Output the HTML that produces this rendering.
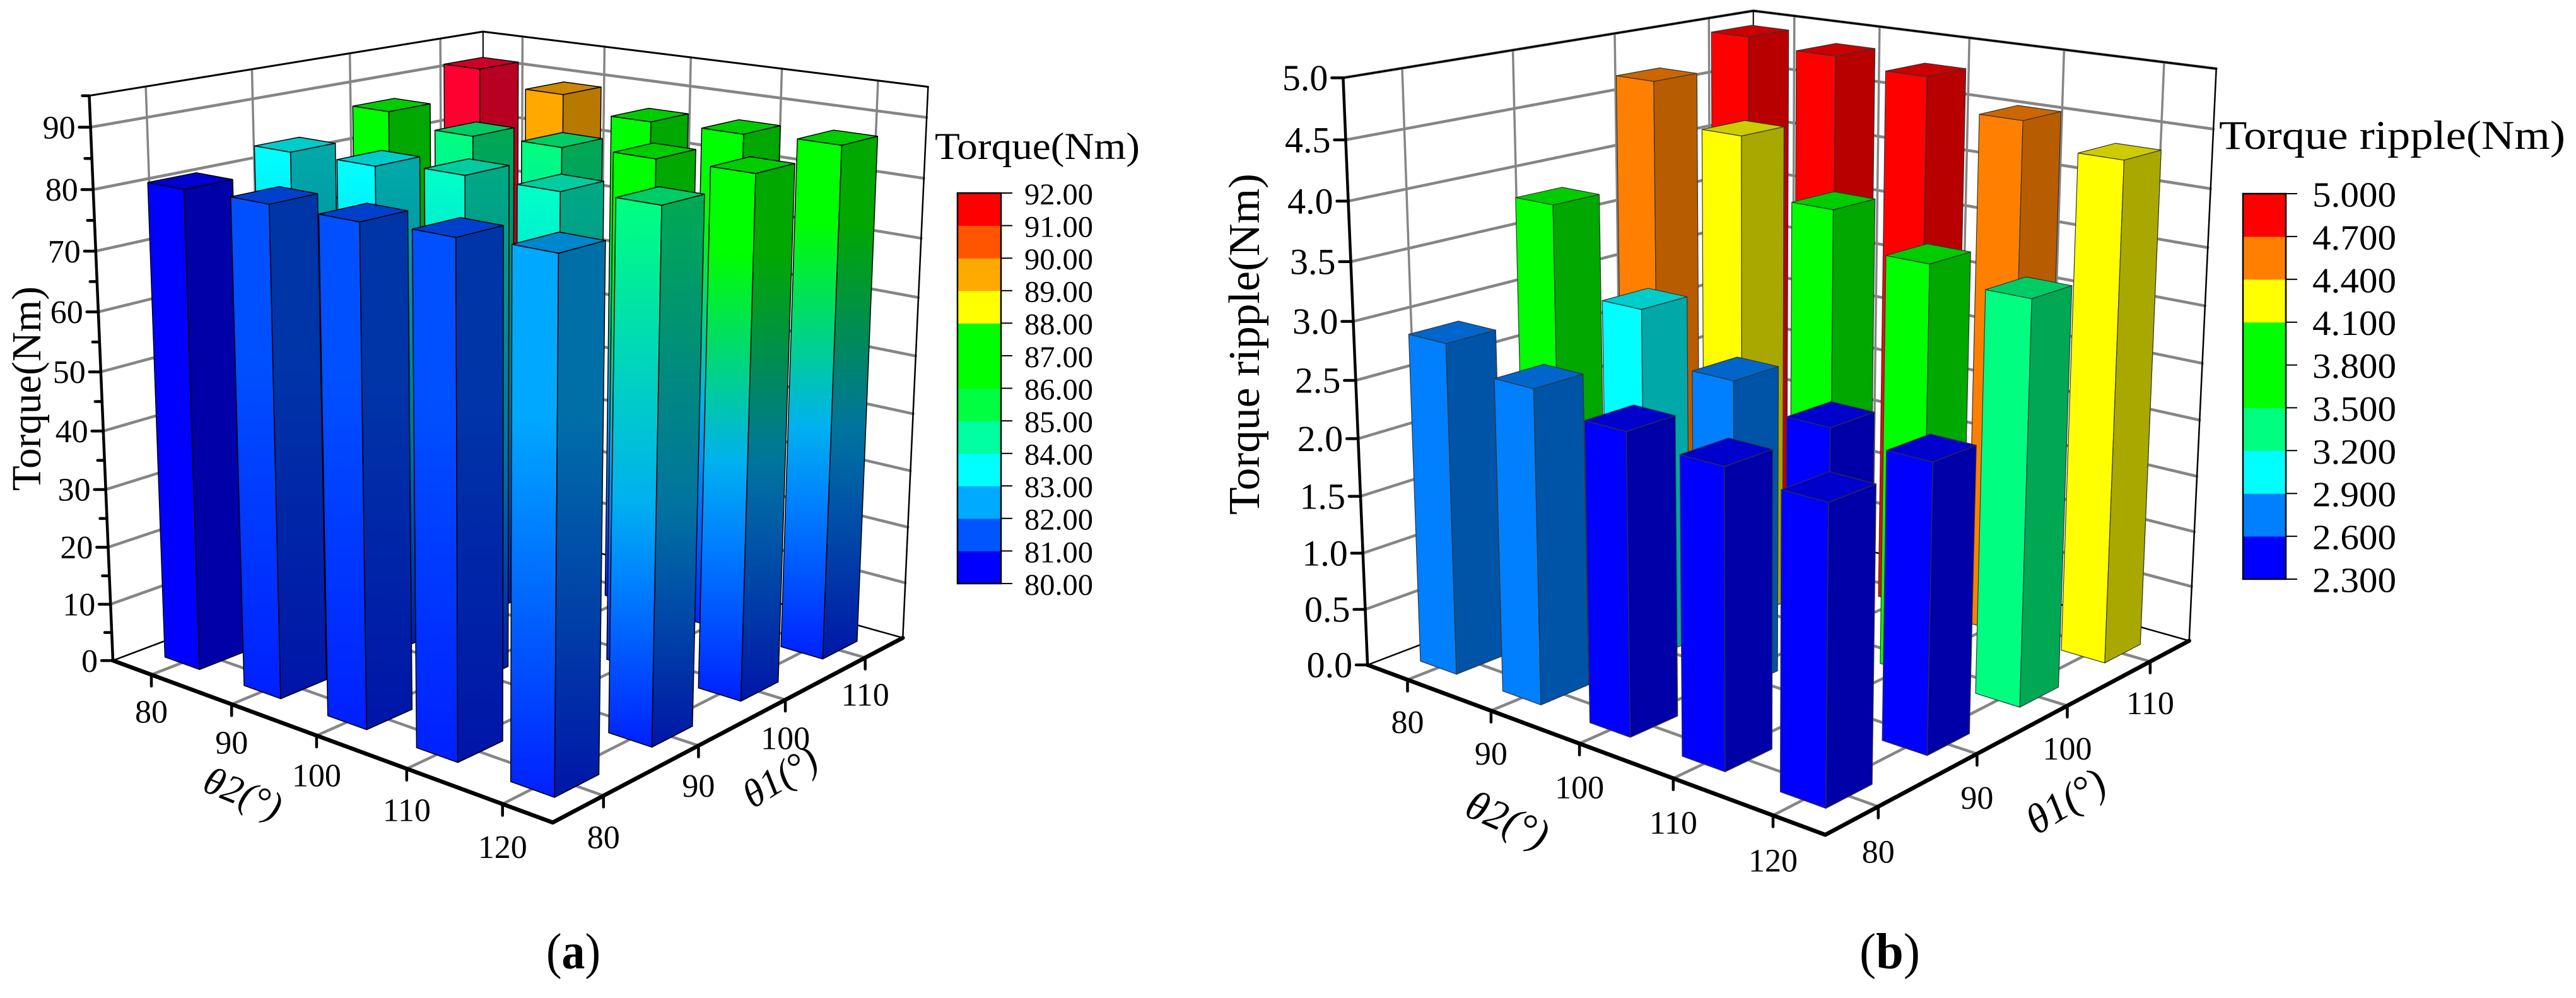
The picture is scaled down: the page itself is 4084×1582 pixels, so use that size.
<!DOCTYPE html>
<html lang="en">
<head>
<meta charset="utf-8">
<title>Torque and torque ripple 3D bar charts</title>
<style>
html,body{margin:0;padding:0;background:#fff;}
svg{display:block;}
text{font-family:"Liberation Serif",serif;fill:#000;}
</style>
</head>
<body>
<svg id="figure" xmlns="http://www.w3.org/2000/svg" width="4084" height="1582" viewBox="0 0 4084 1582">
  <rect x="0" y="0" width="4084" height="1582" fill="#fff"/>
  <defs id="gradients"></defs>
  <g id="panel-a"></g>
  <g id="panel-b"></g>

  <text transform="translate(64,778) rotate(-90)" font-size="66" textLength="324" lengthAdjust="spacingAndGlyphs">Torque(Nm)</text>
  <text transform="translate(385,1258) rotate(22)" font-size="62" font-style="italic" text-anchor="middle" y="20">θ2(°)</text>
  <text transform="translate(1237,1232) rotate(-32)" font-size="62" font-style="italic" text-anchor="middle" y="20">θ1(°)</text>
  <text x="1482" y="252" font-size="60" textLength="325" lengthAdjust="spacingAndGlyphs">Torque(Nm)</text>
  <text x="866" y="1535" font-size="80" textLength="86" lengthAdjust="spacingAndGlyphs">(<tspan font-weight="bold">a</tspan>)</text>

  <text transform="translate(1996,816) rotate(-90)" font-size="70" textLength="541" lengthAdjust="spacingAndGlyphs">Torque ripple(Nm)</text>
  <text transform="translate(2390,1299) rotate(24)" font-size="66" font-style="italic" text-anchor="middle" y="22">θ2(°)</text>
  <text transform="translate(3275,1270) rotate(-32)" font-size="66" font-style="italic" text-anchor="middle" y="22">θ1(°)</text>
  <text x="3518" y="236" font-size="65" textLength="549" lengthAdjust="spacingAndGlyphs">Torque ripple(Nm)</text>
  <text x="2948" y="1535" font-size="80" textLength="96" lengthAdjust="spacingAndGlyphs">(<tspan font-weight="bold">b</tspan>)</text>
</svg>

<script>
// ---- shared category axes ----
const theta2Labels = ['80', '90', '100', '110', '120'];
const theta1Labels = ['80', '90', '100', '110'];

// ---- panel (a) data: torque (Nm), one array per theta1 value, ordered by theta2 ----
const torqueTheta1At80 = [80.85, 81.1, 81.05, 81.5, 82.05];
const torqueTheta1At90 = [83.4, 83.5, 84.5, 84.5, 85.05];
const torqueTheta1At100 = [87.0, 85.05, 85.5, 86.05, 86.2];
const torqueTheta1At110 = [91.5, 89.05, 86.5, 86.7, 87.2];
const torqueZTicks = ['0', '10', '20', '30', '40', '50', '60', '70', '80', '90'];
const torqueLegendTicks = ['80.00', '81.00', '82.00', '83.00', '84.00', '85.00', '86.00', '87.00', '88.00', '89.00', '90.00', '91.00', '92.00'];

// ---- panel (b) data: torque ripple (Nm), one array per theta1 value, ordered by theta2 ----
const rippleTheta1At80 = [2.87, 2.68, 2.53, 2.46, 2.4];
const rippleTheta1At90 = [3.81, 3.08, 2.66, 2.47, 2.4];
const rippleTheta1At100 = [4.69, 4.34, 3.85, 3.55, 3.43];
const rippleTheta1At110 = [4.93, 4.865, 4.795, 4.54, 4.34];
const rippleZTicks = ['0.0', '0.5', '1.0', '1.5', '2.0', '2.5', '3.0', '3.5', '4.0', '4.5', '5.0'];
const rippleLegendTicks = ['2.300', '2.600', '2.900', '3.200', '3.500', '3.800', '4.100', '4.400', '4.700', '5.000'];

// ---- colour scales ----
const torqueBinColors = ['#0000ff', '#0050ff', '#00a8ff', '#00ffff', '#00ffc8', '#00ff80', '#00ff00', '#00ff00', '#ffff00', '#ffa800', '#ff5500', '#ff0030'];
const torqueLegendColors = ['#0000ff', '#0055ff', '#00aaff', '#00ffff', '#00ffa0', '#00ff40', '#00ff00', '#00ff00', '#ffff00', '#ffaa00', '#ff5500', '#ff0000'];
const rippleLegendColors = ['#0000ff', '#0080ff', '#00ffff', '#00ff80', '#00ff00', '#00ff00', '#ffff00', '#ff8000', '#ff0000'];

const SVGNS = 'http://www.w3.org/2000/svg';

function hexToRgb(h) {
  return [parseInt(h.slice(1, 3), 16), parseInt(h.slice(3, 5), 16), parseInt(h.slice(5, 7), 16)];
}
function rgbStr(c) {
  return 'rgb(' + c.map(function (x) { return Math.round(x); }).join(',') + ')';
}
function shade(rgb, k) {
  return rgb.map(function (x) { return x * k; });
}
function mix(a, b, t) {
  return [a[0] + (b[0] - a[0]) * t, a[1] + (b[1] - a[1]) * t, a[2] + (b[2] - a[2]) * t];
}
function sideFactor(rgb) {
  return (rgb[0] > 200 && rgb[1] < 200) ? 0.72 : 0.66;
}
function torqueColor(v) {
  const idx = Math.max(0, Math.min(torqueBinColors.length - 1, Math.floor(v - 80)));
  return hexToRgb(torqueBinColors[idx]);
}
function rippleColor(v) {
  const lo = 2.3, step = 0.3;
  const idx = Math.max(0, Math.min(rippleLegendColors.length - 1, Math.floor((v - lo) / step)));
  return hexToRgb(rippleLegendColors[idx]);
}
// Colour at fraction f of a bar's height (0 = floor, 1 = top) given its top colour.
function barRampColor(c, f) {
  if (c[0] > 0) return c;
  const floor = [0, Math.min(c[1], 32), 255];
  const quarter = [0, 128, 255];
  const mid = [0, 176, 240];
  if (c[1] < 176) {
    return mix(floor, c, Math.min(1, f / 0.7));
  }
  if (f <= 0.3) return mix(floor, quarter, f / 0.3);
  if (f <= 0.45) return mix(quarter, mid, (f - 0.3) / 0.15);
  const hold = (c[2] === 0) ? 0.85 : 1;
  return mix(mid, c, Math.min(1, (f - 0.45) / (hold - 0.45)));
}

// Least-squares projective camera: model (X,Y,Z in 0..1) to page pixels.
function fitCamera(calib) {
  const n = 11;
  const M = [];
  for (let i = 0; i < n; i++) { M.push(new Array(n + 1).fill(0)); }
  function add(row, r) {
    for (let i = 0; i < n; i++) {
      for (let j = 0; j < n; j++) { M[i][j] += row[i] * row[j]; }
      M[i][n] += row[i] * r;
    }
  }
  calib.forEach(function (c) {
    const X = c[0], Y = c[1], Z = c[2], u = c[3] / 1000, v = c[4] / 1000;
    add([X, Y, Z, 1, 0, 0, 0, 0, -u * X, -u * Y, -u * Z], u);
    add([0, 0, 0, 0, X, Y, Z, 1, -v * X, -v * Y, -v * Z], v);
  });
  for (let c = 0; c < n; c++) {
    let piv = c;
    for (let r = c + 1; r < n; r++) { if (Math.abs(M[r][c]) > Math.abs(M[piv][c])) piv = r; }
    const tmp = M[c]; M[c] = M[piv]; M[piv] = tmp;
    for (let r = 0; r < n; r++) {
      if (r === c) continue;
      const f = M[r][c] / M[c][c];
      for (let k = c; k <= n; k++) { M[r][k] -= f * M[c][k]; }
    }
  }
  const p = [];
  for (let i = 0; i < n; i++) { p.push(M[i][n] / M[i][i]); }
  return function (X, Y, Z) {
    const w = p[8] * X + p[9] * Y + p[10] * Z + 1;
    return [1000 * (p[0] * X + p[1] * Y + p[2] * Z + p[3]) / w, 1000 * (p[4] * X + p[5] * Y + p[6] * Z + p[7]) / w];
  };
}

function makeLine(parent, a, b, color, width) {
  const el = document.createElementNS(SVGNS, 'line');
  el.setAttribute('x1', a[0].toFixed(1));
  el.setAttribute('y1', a[1].toFixed(1));
  el.setAttribute('x2', b[0].toFixed(1));
  el.setAttribute('y2', b[1].toFixed(1));
  el.setAttribute('stroke', color);
  el.setAttribute('stroke-width', width);
  el.setAttribute('stroke-linecap', 'round');
  parent.appendChild(el);
  return el;
}
function makeText(parent, x, y, str, size, anchor) {
  const el = document.createElementNS(SVGNS, 'text');
  el.setAttribute('x', x.toFixed(1));
  el.setAttribute('y', y.toFixed(1));
  el.setAttribute('font-size', size);
  el.setAttribute('text-anchor', anchor);
  el.textContent = str;
  parent.appendChild(el);
  return el;
}
function makeFace(parent, pts, fill, stroke, strokeWidth) {
  const el = document.createElementNS(SVGNS, 'polygon');
  el.setAttribute('points', pts.map(function (q) { return q[0].toFixed(1) + ',' + q[1].toFixed(1); }).join(' '));
  el.setAttribute('fill', fill);
  el.setAttribute('stroke', stroke);
  el.setAttribute('stroke-width', strokeWidth);
  el.setAttribute('stroke-linejoin', 'round');
  parent.appendChild(el);
  return el;
}
let gradientCounter = 0;
function makeGradient(topPoint, bottomPoint, topColor, k) {
  const defs = document.getElementById('gradients');
  const g = document.createElementNS(SVGNS, 'linearGradient');
  const id = 'bar-gradient-' + (gradientCounter++);
  g.setAttribute('id', id);
  g.setAttribute('gradientUnits', 'userSpaceOnUse');
  g.setAttribute('x1', 0);
  g.setAttribute('x2', 0);
  g.setAttribute('y1', topPoint[1].toFixed(1));
  g.setAttribute('y2', bottomPoint[1].toFixed(1));
  const steps = 20;
  for (let s = 0; s <= steps; s++) {
    const offset = s / steps;
    const stop = document.createElementNS(SVGNS, 'stop');
    stop.setAttribute('offset', offset.toFixed(3));
    stop.setAttribute('stop-color', rgbStr(shade(barRampColor(topColor, 1 - offset), k)));
    g.appendChild(stop);
  }
  defs.appendChild(g);
  return 'url(#' + id + ')';
}

function drawPanel(cfg) {
  const root = document.getElementById(cfg.rootId);
  const project = fitCamera(cfg.calibration);
  const barPoint = function (X, Y, Z) {
    const q = project(X, Y, Z);
    return [q[0] + cfg.barShiftX, q[1]];
  };
  const zOf = function (v) { return v / cfg.zMax; };
  const xOf = function (i) { return (i + 0.5) / theta2Labels.length; };
  const yOf = function (j) { return (j + 0.5) / theta1Labels.length; };
  const GRID = '#858585';

  // ---- walls and floor ----
  const walls = document.createElementNS(SVGNS, 'g');
  
  
  root.appendChild(walls);

  cfg.zTicks.forEach(function (t) {
    const z = zOf(parseFloat(t));
    if (z === 0) return;
    const l = makeLine(walls, project(0, 0, z), project(0, 1, z), GRID, 4.5);
    
    
    const r = makeLine(walls, project(0, 1, z), project(1, 1, z), GRID, 4.5);
    
    
  });
  theta1Labels.forEach(function (t, j) {
    const y = yOf(j);
    const l = makeLine(walls, project(0, y, 0), project(0, y, 1), GRID, 3.5);
    
    
    const f = makeLine(walls, project(0, y, 0), project(1, y, 0), GRID, 4.5);
    
    
  });
  theta2Labels.forEach(function (t, i) {
    const x = xOf(i);
    const l = makeLine(walls, project(x, 1, 0), project(x, 1, 1), GRID, 3.5);
    
    
    const f = makeLine(walls, project(x, 0, 0), project(x, 1, 0), GRID, 4.5);
    
    
  });

  const edgeSegments = [
    [[0, 0, 1], [0, 1, 1], 3],
    [[0, 1, 1], [1, 1, 1], 3],
    [[0, 1, 1], [0, 1, 0], 2],
    [[1, 1, 1], [1, 1, 0], 2.5],
    [[0, 0, 0], [0, 1, 0], 2.5],
    [[1, 1, 0], [0, 1, 0], 2.5]
  ];
  edgeSegments.forEach(function (s) {
    const e = makeLine(walls, project(s[0][0], s[0][1], s[0][2]), project(s[1][0], s[1][1], s[1][2]), '#000', s[2]);
    
    
  });

  // ---- bars, painted back to front ----
  const bars = document.createElementNS(SVGNS, 'g');
  
  
  root.appendChild(bars);
  const hx = cfg.barHalfX, hy = cfg.barHalfY;
  for (let j = cfg.rows.length - 1; j >= 0; j--) {
    for (let i = 0; i < cfg.rows[j].length; i++) {
      const v = cfg.rows[j][i];
      const x0 = xOf(i) - hx, x1 = xOf(i) + hx, y0 = yOf(j) - hy, y1 = yOf(j) + hy, z = zOf(v);
      const base = cfg.colorFn(v);
      const k = sideFactor(base);
      let leftFill, rightFill;
      if (cfg.gradient) {
        const topP = barPoint(x1, y0, z), botP = barPoint(x1, y0, 0);
        leftFill = makeGradient(topP, botP, base, 1);
        rightFill = makeGradient(topP, botP, base, k);
      } else {
        leftFill = rgbStr(base);
        rightFill = rgbStr(shade(base, k));
      }
      const group = document.createElementNS(SVGNS, 'g');
      
      
      bars.appendChild(group);
      const left = makeFace(group, [barPoint(x0, y0, 0), barPoint(x1, y0, 0), barPoint(x1, y0, z), barPoint(x0, y0, z)], leftFill, cfg.barStroke, cfg.barStrokeWidth);
      
      
      const right = makeFace(group, [barPoint(x1, y0, 0), barPoint(x1, y1, 0), barPoint(x1, y1, z), barPoint(x1, y0, z)], rightFill, cfg.barStroke, cfg.barStrokeWidth);
      
      
      const top = makeFace(group, [barPoint(x0, y0, z), barPoint(x1, y0, z), barPoint(x1, y1, z), barPoint(x0, y1, z)], rgbStr(shade(base, 0.8)), cfg.barStroke, cfg.barStrokeWidth);
      
      
    }
  }

  // ---- front axes ----
  const axes = document.createElementNS(SVGNS, 'g');
  
  
  root.appendChild(axes);

  const zAxis = makeLine(axes, project(0, 0, 0), project(0, 0, 1), '#000', 4.5);
  
  
  const xAxis = makeLine(axes, project(0, 0, 0), project(1, 0, 0), '#000', 6.5);
  
  
  const yAxis = makeLine(axes, project(1, 0, 0), project(1, 1, 0), '#000', 6.5);
  
  

  theta2Labels.forEach(function (t, i) {
    const p = project(xOf(i), 0, 0);
    const tk = makeLine(axes, p, [p[0], p[1] + 18], '#000', 4.5);
    
    
    const lb = makeText(axes, p[0], p[1] + cfg.xLabelDrop + cfg.xLabelGrow * xOf(i) + 0.34 * cfg.catFont, t, cfg.catFont, 'middle');
    
    
  });
  theta1Labels.forEach(function (t, j) {
    const p = project(1, yOf(j), 0);
    const tk = makeLine(axes, p, [p[0], p[1] + 18], '#000', 4.5);
    
    
    const lb = makeText(axes, p[0], p[1] + cfg.yLabelDrop - cfg.yLabelShrink * yOf(j) + 0.34 * cfg.catFont, t, cfg.catFont, 'middle');
    
    
  });
  cfg.zTicks.forEach(function (t) {
    const p = project(0, 0, zOf(parseFloat(t)));
    const tk = makeLine(axes, p, [p[0] - 18, p[1]], '#000', 4.5);
    
    
    const lb = makeText(axes, p[0] - 24, p[1] + 0.34 * cfg.zFont, t, cfg.zFont, 'end');
    
    
  });
  const zStep = parseFloat(cfg.zTicks[1]) - parseFloat(cfg.zTicks[0]);
  if (cfg.minorTicks) {
    for (let m = zStep / 2; m <= cfg.zMax + 1e-6; m += zStep) {
      const p = project(0, 0, zOf(m));
      const tk = makeLine(axes, p, [p[0] - 11, p[1]], '#000', 4.5);
      
      
    }
  }

  // ---- colour legend ----
  const legend = document.createElementNS(SVGNS, 'g');
  
  
  root.appendChild(legend);
  const L = cfg.legend;
  const levels = cfg.legendColors.length;
  const stepH = (L.bottom - L.top) / levels;
  cfg.legendColors.forEach(function (c, idx) {
    const swatch = document.createElementNS(SVGNS, 'rect');
    swatch.setAttribute('x', L.left);
    swatch.setAttribute('y', (L.bottom - (idx + 1) * stepH).toFixed(1));
    swatch.setAttribute('width', L.right - L.left);
    swatch.setAttribute('height', (stepH + 0.5).toFixed(1));
    swatch.setAttribute('fill', c);
    
    
    legend.appendChild(swatch);
  });
  const frame = document.createElementNS(SVGNS, 'rect');
  frame.setAttribute('x', L.left);
  frame.setAttribute('y', L.top);
  frame.setAttribute('width', L.right - L.left);
  frame.setAttribute('height', L.bottom - L.top);
  frame.setAttribute('fill', 'none');
  frame.setAttribute('stroke', '#000');
  frame.setAttribute('stroke-width', 2.5);
  
  
  legend.appendChild(frame);
  cfg.legendTicks.forEach(function (t, idx) {
    const y = L.bottom - idx * stepH;
    const tk = makeLine(legend, [L.right, y], [L.tickEnd, y], '#000', 2);
    tk.setAttribute('stroke-linecap', 'butt');
    
    
    const lb = makeText(legend, L.labelX, y + 0.33 * L.font + L.labelDy, t, L.font, 'start');
    lb.setAttribute('textLength', L.labelWidth);
    lb.setAttribute('lengthAdjust', 'spacingAndGlyphs');
    
    
  });
}

drawPanel({
  rootId: 'panel-a',
  rows: [torqueTheta1At80, torqueTheta1At90, torqueTheta1At100, torqueTheta1At110],
  zMax: 95,
  zTicks: torqueZTicks,
  minorTicks: true,
  colorFn: torqueColor,
  gradient: true,
  barHalfX: 0.0445,
  barHalfY: 0.0556,
  barShiftX: 2,
  barStroke: '#000',
  barStrokeWidth: 1.5,
  catFont: 52,
  zFont: 52,
  xLabelDrop: 57,
  xLabelGrow: 12,
  yLabelDrop: 67,
  yLabelShrink: 10,
  legendColors: torqueLegendColors,
  legendTicks: torqueLegendTicks,
  legend: { left: 1518, right: 1587, top: 306, bottom: 925, tickEnd: 1605, labelX: 1624, labelWidth: 109, font: 48, labelDy: 2 },
  calibration: [
    [0, 0, 0, 179, 1046], [1, 0, 0, 876, 1304], [1, 1, 0, 1431, 1010],
    [0, 0, 1, 142, 151], [1, 1, 1, 1472, 138], [0, 1, 1, 766, 51],
    [0.1, 0, 0, 239, 1071], [0.3, 0, 0, 368, 1117], [0.5, 0, 0, 502, 1166], [0.7, 0, 0, 646, 1218], [0.9, 0, 0, 796, 1273],
    [1, 0.125, 0, 957, 1262], [1, 0.375, 0, 1107, 1183], [1, 0.625, 0, 1244, 1109], [1, 0.875, 0, 1373, 1043],
    [0, 0.125, 1, 230, 138], [0, 0.375, 1, 399, 110], [0, 0.625, 1, 555, 83], [0, 0.875, 1, 699, 60],
    [0.1, 1, 1, 828, 59], [0.3, 1, 1, 957, 74], [0.5, 1, 1, 1096, 91], [0.7, 1, 1, 1239, 108], [0.9, 1, 1, 1392, 128],
    [0, 0, 0.5263, 160, 589], [0, 0, 0.9474, 144, 202]
  ]
});

drawPanel({
  rootId: 'panel-b',
  rows: [rippleTheta1At80, rippleTheta1At90, rippleTheta1At100, rippleTheta1At110],
  zMax: 5,
  zTicks: rippleZTicks,
  minorTicks: false,
  colorFn: rippleColor,
  gradient: false,
  barHalfX: 0.0445,
  barHalfY: 0.0556,
  barShiftX: 0,
  barStroke: '#333',
  barStrokeWidth: 1.2,
  catFont: 52,
  zFont: 58,
  xLabelDrop: 66,
  xLabelGrow: 6,
  yLabelDrop: 72,
  yLabelShrink: 7,
  legendColors: rippleLegendColors,
  legendTicks: rippleLegendTicks,
  legend: { left: 3556, right: 3624, top: 307, bottom: 918, tickEnd: 3642, labelX: 3666, labelWidth: 133, font: 56, labelDy: 2 },
  calibration: [
    [0, 0, 0, 2168, 1054], [1, 0, 0, 2895, 1323], [1, 1, 0, 3471, 1017],
    [0, 0, 1, 2130, 124], [1, 1, 1, 3513, 109], [0, 1, 1, 2780, 18],
    [0.1, 0, 0, 2231, 1078], [0.3, 0, 0, 2364, 1126], [0.5, 0, 0, 2504, 1177], [0.7, 0, 0, 2653, 1233], [0.9, 0, 0, 2811, 1293],
    [1, 0.125, 0, 2979, 1280], [1, 0.375, 0, 3134, 1196], [1, 0.625, 0, 3277, 1118], [1, 0.875, 0, 3408, 1048],
    [0, 0.125, 1, 2222, 108], [0, 0.375, 1, 2398, 80], [0, 0.625, 1, 2560, 53], [0, 0.875, 1, 2709, 28],
    [0.1, 1, 1, 2846, 25], [0.3, 1, 1, 2981, 42], [0.5, 1, 1, 3122, 60], [0.7, 1, 1, 3272, 78], [0.9, 1, 1, 3431, 98],
    [0, 0, 0.5, 2149, 603]
  ]
});
</script>
</body>
</html>
